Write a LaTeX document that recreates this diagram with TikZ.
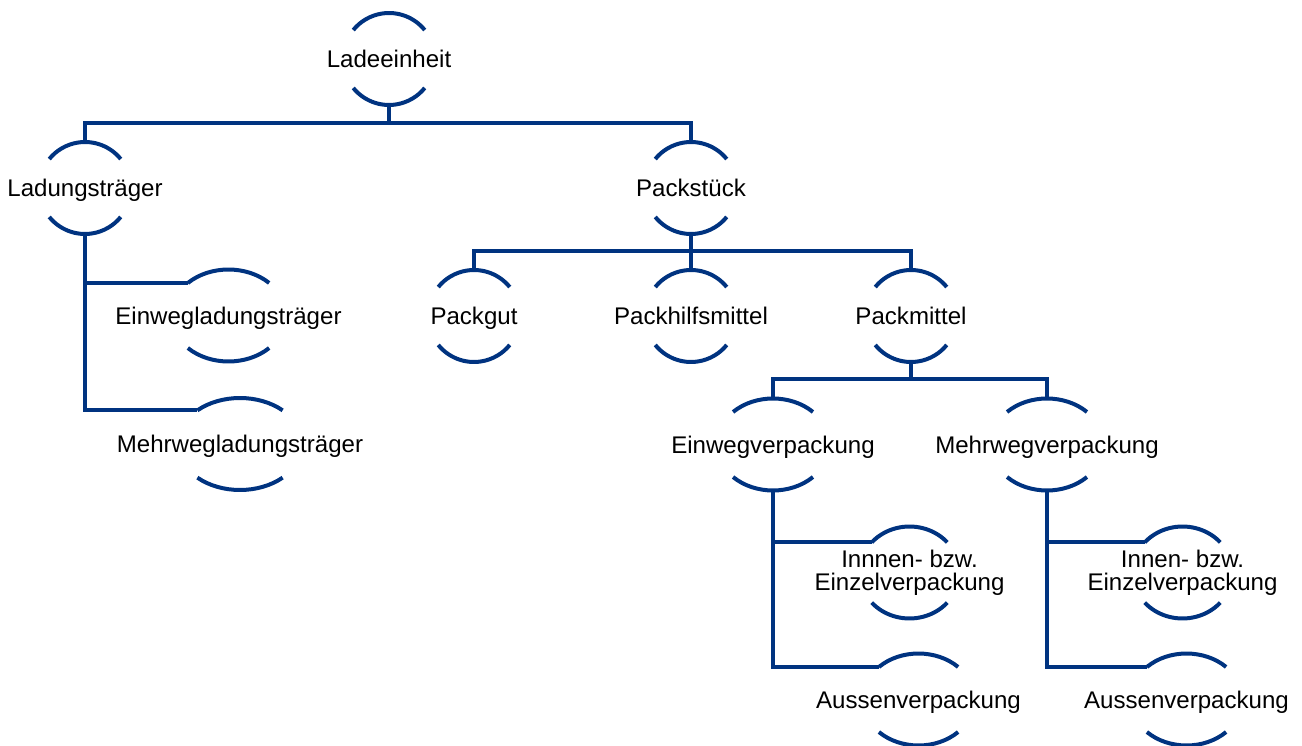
\documentclass[tikz,border=0pt]{standalone}
\usepackage{fontspec}
\setmainfont{Liberation Sans}
\definecolor{dunkelblau}{RGB}{0,51,128}
\tikzset{
	linie/.style={line width=0.08cm, draw=dunkelblau},
	begriff/.style={inner sep=0pt, font=\fontsize{13.7}{13.2}\selectfont, text height=0.345cm, text depth=0pt},
	begriffz/.style={inner sep=0pt, font=\fontsize{13.7}{13.2}\selectfont, align=center},
}
\newcommand{\klammer}[3]{%
	\draw[linie] (#1.center) ++(#3:#2cm and 0.92cm) arc[start angle=#3, end angle=180-#3, x radius=#2cm, y radius=0.92cm];
	\draw[linie] (#1.center) ++(180+#3:#2cm and 0.92cm) arc[start angle=180+#3, end angle=360-#3, x radius=#2cm, y radius=0.92cm];
	\path (#1.center) ++(0,0.92cm) coordinate (#1-o);
	\path (#1.center) ++(0,-0.92cm) coordinate (#1-u);
	\path (#1.center) ++(180-#3:#2cm and 0.92cm) coordinate (#1-l);
}
\begin{document}
\begin{tikzpicture}[x=0.02cm,y=0.02cm]
	\useasboundingbox (0,0) rectangle (1302,-746);
	\node[begriff] (lade) at (389,-59) {Ladeeinheit};
	\node[begriff] (traeger) at (85,-188) {Ladungsträger};
	\node[begriff] (stueck) at (691,-188) {Packstück};
	\node[begriff] (einl) at (228.5,-315.5) {Einwegladungsträger};
	\node[begriff] (mehrl) at (240,-444) {Mehrwegladungsträger};
	\node[begriff] (gut) at (474,-316) {Packgut};
	\node[begriff] (hilf) at (691,-316) {Packhilfsmittel};
	\node[begriff] (mittel) at (911,-316) {Packmittel};
	\node[begriff] (einv) at (773,-444.5) {Einwegverpackung};
	\node[begriff] (mehrv) at (1047,-444.5) {Mehrwegverpackung};
	\node[begriffz] (innen1) at (909.5,-572.5) {Innnen- bzw.\\Einzelverpackung};
	\node[begriff] (aussen1) at (918.5,-699.5) {Aussenverpackung};
	\node[begriffz] (innen2) at (1182.5,-572.5) {Innen- bzw.\\Einzelverpackung};
	\node[begriff] (aussen2) at (1186.5,-699.5) {Aussenverpackung};
	\klammer{lade}{0.92}{39}
	\klammer{traeger}{0.92}{39}
	\klammer{stueck}{0.92}{39}
	\klammer{gut}{0.92}{39}
	\klammer{hilf}{0.92}{39}
	\klammer{mittel}{0.92}{39}
	\klammer{einl}{1.15}{45}
	\klammer{mehrl}{1.25}{47}
	\klammer{einv}{1.13}{45}
	\klammer{mehrv}{1.13}{45}
	\klammer{innen1}{1.0}{41}
	\klammer{innen2}{1.0}{41}
	\klammer{aussen1}{1.12}{45}
	\klammer{aussen2}{1.12}{45}
	\coordinate (bus1) at (389,-123);
	\coordinate (bus2) at (691,-251);
	\coordinate (bus3) at (911,-379);
	\draw[linie] (lade-u) -- (bus1);
	\draw[linie] (traeger-o) |- (bus1) -| (stueck-o);
	\draw[linie] (stueck-u) -- (hilf-o);
	\draw[linie] (gut-o) |- (bus2) -| (mittel-o);
	\draw[linie] (mittel-u) -- (bus3);
	\draw[linie] (einv-o) |- (bus3) -| (mehrv-o);
	\draw[linie] (traeger-u) |- (einl-l);
	\draw[linie] (traeger-u) |- (mehrl-l);
	\draw[linie] (einv-u) |- (innen1-l);
	\draw[linie] (einv-u) |- (aussen1-l);
	\draw[linie] (mehrv-u) |- (innen2-l);
	\draw[linie] (mehrv-u) |- (aussen2-l);
\end{tikzpicture}
\end{document}
